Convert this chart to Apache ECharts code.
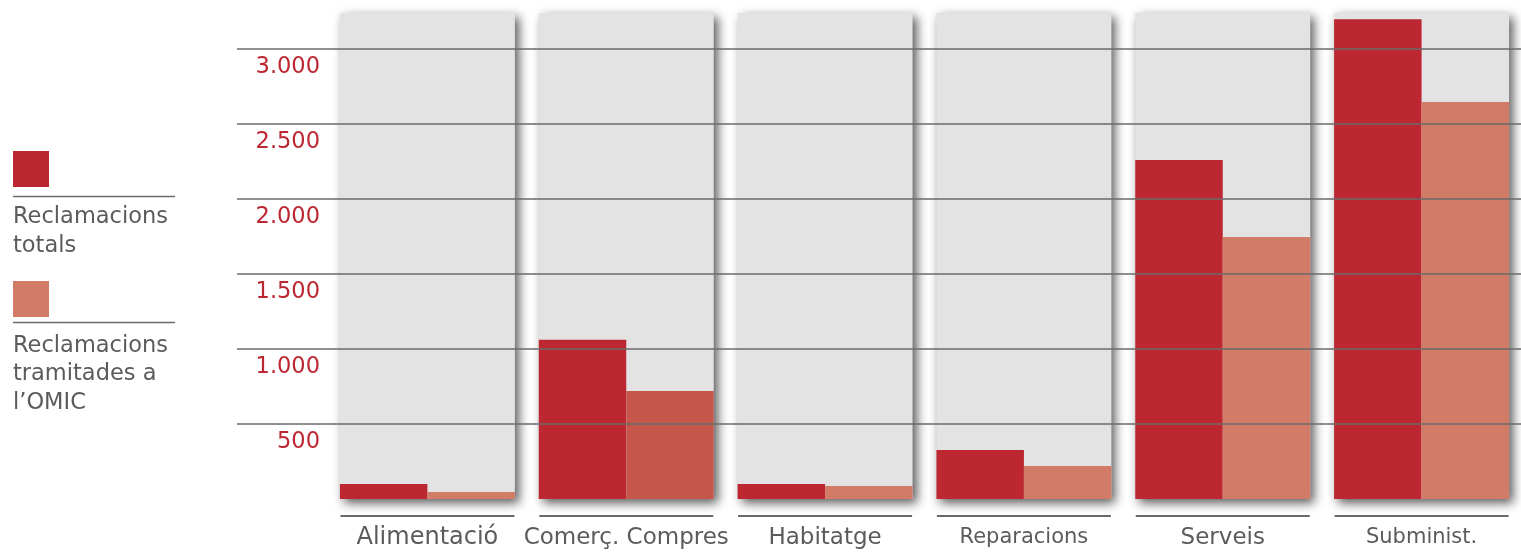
<!DOCTYPE html>
<html>
<head>
<meta charset="utf-8">
<script src="https://cdn.jsdelivr.net/npm/echarts@6/dist/echarts.min.js"></script>
<style>
  html, body { margin: 0; padding: 0; background: #ffffff; }
  #chart { width: 1521px; height: 553px; }
</style>
</head>
<body>
<div id="chart"></div>
<script>
// Consumer claims by sector: total claims vs. claims handled by the OMIC
const categories = ['Alimentació', 'Comerç. Compres', 'Habitatge', 'Reparacions', 'Serveis', 'Subminist.'];
const seriesNames = ['Reclamacions totals', 'Reclamacions tramitades a l’OMIC'];
const legendLabels = ['Reclamacions\ntotals', 'Reclamacions\ntramitades a\nl’OMIC'];
const totalClaims = [100, 1060, 100, 327, 2257, 3195];
const omicClaims = [47, 719, 87, 220, 1744, 2643];
const yTickStep = 500;
const yTickMax = 3000;

// Layout and styling
const FONT = '"DejaVu Sans"';
const RED = '#bc2731';
const SALMON = '#d27c68';
const SALMON_ALT = { 'Comerç. Compres': '#c4574a' };
const PANEL = '#e3e3e3';
const RULE = '#6a6a6a';
const TEXT = '#5b5b5b';
const LABEL_SIZE = { 'Alimentació': 24, 'Comerç. Compres': 23, 'Reparacions': 21, 'Subminist.': 21 };
const TOP = 13, BOTTOM = 54, H = 553;
const PANEL_MAX = 3236;                       // height of the grey column panels, in claims
const plotH = H - TOP - BOTTOM;
const linesTop = TOP + plotH * (1 - yTickMax / PANEL_MAX);

const fmt = v => String(v).replace(/\B(?=(\d{3})+(?!\d))/g, '.');

// one rich style per category label size
const sizes = Array.from(new Set(categories.map(c => LABEL_SIZE[c] || 23)));
const rich = { rule: { width: 174, height: 2, backgroundColor: RULE } };
sizes.forEach((s, i) => {
  rich['t' + i] = { fontFamily: FONT, fontSize: s, lineHeight: 42, color: TEXT };
});

const chart = echarts.init(document.getElementById('chart'), null, { renderer: 'canvas' });

chart.setOption({
  animation: false,
  grid: [
    { left: 328, right: 0, top: TOP, bottom: BOTTOM },
    { left: 237, right: 0, top: linesTop, bottom: BOTTOM }
  ],
  xAxis: [
    {
      type: 'category', gridIndex: 0, data: categories,
      axisLine: { show: false }, axisTick: { show: false },
      axisLabel: {
        interval: 0, margin: 16, align: 'center',
        formatter: name => `{rule|}\n{t${sizes.indexOf(LABEL_SIZE[name] || 23)}|${name}}`,
        rich
      }
    },
    { type: 'category', gridIndex: 0, data: categories, show: false },
    { type: 'value', gridIndex: 1, show: false, min: 0, max: 1 }
  ],
  yAxis: [
    { type: 'value', gridIndex: 0, min: 0, max: PANEL_MAX, show: false },
    {
      type: 'value', gridIndex: 1, min: 0, max: yTickMax, interval: yTickStep, z: 5,
      axisLine: { show: false }, axisTick: { show: false },
      splitLine: { show: true, showMinLine: false, lineStyle: { color: RULE, width: 1.5 } },
      axisLabel: {
        inside: true, margin: 83, align: 'right', verticalAlign: 'middle',
        lineHeight: 37, showMinLabel: false,
        fontFamily: FONT, fontSize: 22.5, color: RED,
        // the blank first line drops each value just below its grid line
        formatter: v => (v === 0 ? '' : '\n' + fmt(v))
      }
    }
  ],
  series: [
    {
      type: 'bar', name: 'panel', xAxisIndex: 1, yAxisIndex: 0, silent: true,
      barWidth: '88%',
      data: categories.map(() => PANEL_MAX),
      itemStyle: {
        color: PANEL, shadowColor: 'rgba(0,0,0,0.65)', shadowBlur: 10,
        shadowOffsetX: 4, shadowOffsetY: 4
      }
    },
    {
      type: 'bar', name: seriesNames[0], xAxisIndex: 0, yAxisIndex: 0,
      barWidth: '44%', barGap: 0,
      data: totalClaims,
      itemStyle: { color: RED }
    },
    {
      type: 'bar', name: seriesNames[1], xAxisIndex: 0, yAxisIndex: 0,
      barWidth: '44%', barGap: 0,
      data: omicClaims.map((v, i) => ({
        value: v, itemStyle: { color: SALMON_ALT[categories[i]] || SALMON }
      }))
    }
  ],
  graphic: [
    { type: 'rect', shape: { x: 13, y: 151, width: 36, height: 36 }, style: { fill: RED } },
    { type: 'line', shape: { x1: 13, y1: 196.5, x2: 175, y2: 196.5 }, style: { stroke: RULE, lineWidth: 1.5 } },
    { type: 'text', x: 13, y: 202.5, style: { text: legendLabels[0], fontFamily: FONT, fontSize: 22.5, lineHeight: 29, fill: TEXT, verticalAlign: 'top' } },
    { type: 'rect', shape: { x: 13, y: 281, width: 36, height: 36 }, style: { fill: SALMON } },
    { type: 'line', shape: { x1: 13, y1: 322.5, x2: 175, y2: 322.5 }, style: { stroke: RULE, lineWidth: 1.5 } },
    { type: 'text', x: 13, y: 331.5, style: { text: legendLabels[1], fontFamily: FONT, fontSize: 22.5, lineHeight: 28.5, fill: TEXT, verticalAlign: 'top' } }
  ]
});
</script>
</body>
</html>
